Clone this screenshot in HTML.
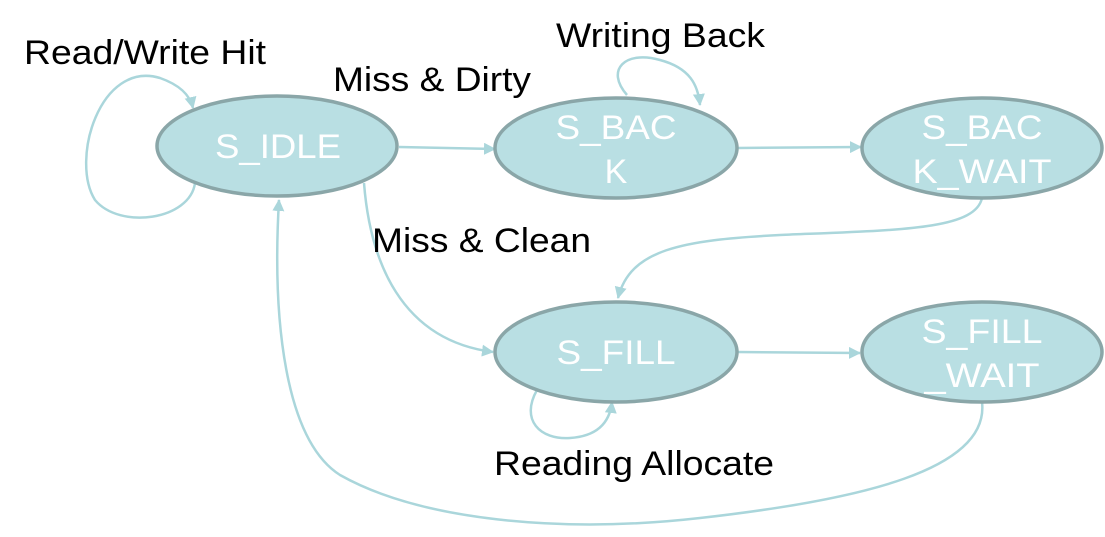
<!DOCTYPE html>
<html><head><style>
body{margin:0;background:#fff;width:1105px;height:532px;overflow:hidden}
svg text{font-family:"Liberation Sans",Arial,sans-serif}
</style></head><body>
<svg width="1105" height="532" viewBox="0 0 1105 532" xmlns="http://www.w3.org/2000/svg">
<defs>
<marker id="b" markerWidth="12" markerHeight="12" refX="11" refY="6" orient="auto" markerUnits="userSpaceOnUse" viewBox="0 0 12 12"><path d="M0,0 L12,6 L0,12 z" fill="#aad6db"/></marker></defs>
<g fill="none" stroke="#aad6db" stroke-width="2.5">
<path d="M195,183 C190,220 120,230 95,200 C70,160 100,60 160,78 C180,85 190,95 193,108" marker-end="url(#b)"/>
<path d="M399,147 L495,149" marker-end="url(#b)"/>
<path d="M737,148 L861,147" marker-end="url(#b)"/>
<path d="M364,183 C370,260 400,340 493,352" marker-end="url(#b)"/>
<path d="M627,95 C605,70 625,50 660,60 C690,68 698,85 700,105" marker-end="url(#b)"/>
<path d="M982,198 C975,230 900,230 780,235 C680,240 630,250 618,298" marker-end="url(#b)"/>
<path d="M737,352 L860,353" marker-end="url(#b)"/>
<path d="M537,390 C520,420 540,440 570,438 C600,436 610,420 612,402" marker-end="url(#b)"/>
<path d="M982,402 C990,470 860,500 700,518 C560,534 420,520 340,475 C285,440 272,320 279,200" marker-end="url(#b)"/>
</g>
<g fill="#b9dfe3" stroke="#8aa6a8" stroke-width="3.5">
<ellipse cx="277" cy="146" rx="120" ry="50"/>
<ellipse cx="616" cy="148" rx="121" ry="50"/>
<ellipse cx="982" cy="148" rx="120" ry="50"/>
<ellipse cx="616" cy="352" rx="121" ry="50"/>
<ellipse cx="982" cy="352" rx="120" ry="50"/>
</g>
<g fill="#fff" font-size="34" text-anchor="middle">
<text x="278" y="158" textLength="126" lengthAdjust="spacingAndGlyphs">S_IDLE</text>
<text x="616" y="139" textLength="121" lengthAdjust="spacingAndGlyphs">S_BAC</text><text x="616" y="183">K</text>
<text x="982" y="139" textLength="121" lengthAdjust="spacingAndGlyphs">S_BAC</text><text x="982" y="183" textLength="139" lengthAdjust="spacingAndGlyphs">K_WAIT</text>
<text x="616" y="364" textLength="119" lengthAdjust="spacingAndGlyphs">S_FILL</text>
<text x="982" y="343" textLength="121" lengthAdjust="spacingAndGlyphs">S_FILL</text><text x="982" y="387" textLength="115" lengthAdjust="spacingAndGlyphs">_WAIT</text>
</g>
<g fill="#000" font-size="34">
<text x="24" y="64" textLength="242" lengthAdjust="spacingAndGlyphs">Read/Write Hit</text>
<text x="333" y="91" textLength="198" lengthAdjust="spacingAndGlyphs">Miss &amp; Dirty</text>
<text x="556" y="47" textLength="209" lengthAdjust="spacingAndGlyphs">Writing Back</text>
<text x="372" y="252" textLength="219" lengthAdjust="spacingAndGlyphs">Miss &amp; Clean</text>
<text x="494" y="475" textLength="280" lengthAdjust="spacingAndGlyphs">Reading Allocate</text>
</g>
</svg>
</body></html>
